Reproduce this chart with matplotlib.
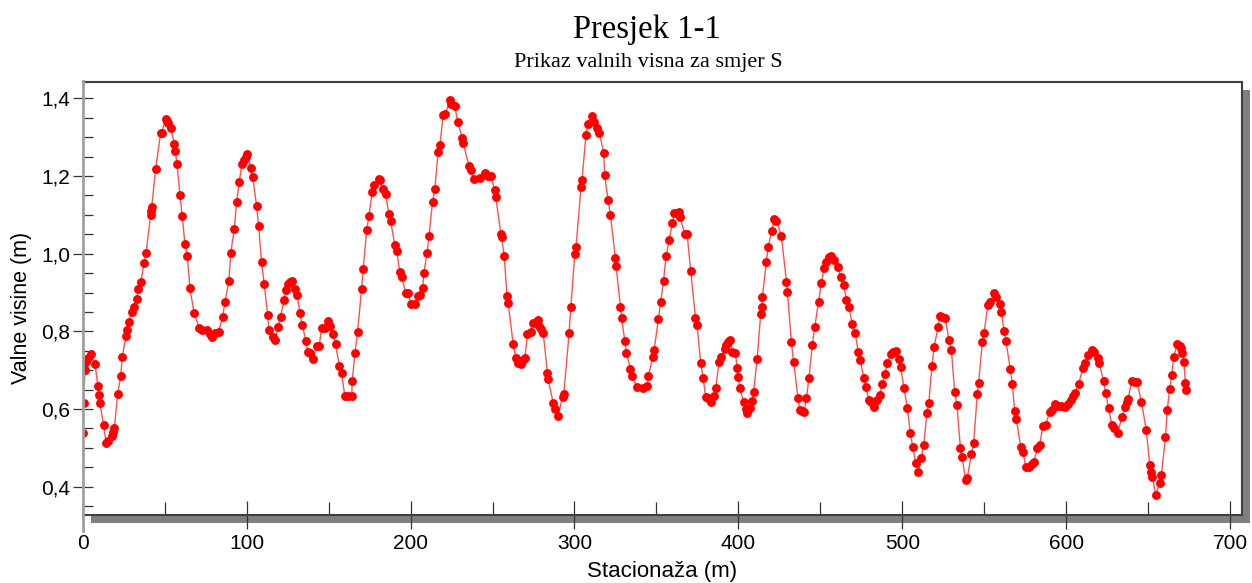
"""Presjek 1-1: valne visine duz stacionaze (smjer S)."""

import matplotlib

matplotlib.use("Agg")
import matplotlib.pyplot as plt
from matplotlib.lines import Line2D
from matplotlib.patches import Rectangle
from matplotlib.ticker import FuncFormatter, MultipleLocator

TITLE = "Presjek 1-1"
SUBTITLE = "Prikaz valnih visna za smjer S"
X_LABEL = "Stacionaža (m)"
Y_LABEL = "Valne visine (m)"

stacionaza = [
    0.0, 0.5, 1.4, 2.0, 3.4, 5.1, 7.5, 9.3, 9.9, 10.4, 12.8, 14.2, 15.6, 17.7, 18.7, 19.3,
    21.3, 23.2, 24.1, 26.4, 27.0, 28.0, 29.9, 31.5, 32.9, 33.9, 35.5, 37.4, 38.6, 41.5,
    41.6, 42.1, 44.5, 47.5, 48.2, 50.6, 51.2, 52.2, 53.7, 55.9, 56.5, 57.5, 59.3, 60.7,
    62.4, 63.8, 65.4, 68.0, 71.1, 72.9, 75.6, 77.6, 79.0, 80.7, 82.9, 85.4, 86.8, 89.2,
    90.3, 92.5, 93.9, 95.5, 97.0, 98.4, 99.4, 100.4, 102.4, 103.7, 106.1, 107.3, 109.1,
    110.7, 112.8, 113.6, 115.8, 117.3, 119.3, 120.7, 122.8, 124.0, 125.4, 126.4, 127.8,
    129.5, 130.9, 132.5, 133.9, 136.2, 137.2, 138.6, 140.6, 142.7, 144.3, 145.7, 147.7,
    149.8, 150.8, 152.8, 154.3, 156.5, 157.9, 159.9, 162.0, 164.1, 164.4, 166.1, 167.7,
    170.1, 171.1, 173.2, 174.6, 176.6, 177.6, 180.7, 181.3, 182.9, 184.8, 186.8, 187.8,
    190.4, 191.5, 193.5, 194.5, 197.0, 198.5, 200.2, 203.0, 204.6, 205.7, 207.3, 208.1,
    210.1, 211.3, 213.4, 214.8, 216.8, 217.9, 219.9, 221.3, 224.0, 224.6, 227.0, 228.7,
    231.5, 232.1, 235.6, 236.6, 238.8, 242.3, 245.3, 247.3, 248.8, 251.4, 252.0, 255.1,
    255.5, 257.1, 258.9, 259.5, 262.6, 264.2, 265.6, 267.1, 268.7, 269.7, 271.3, 273.4,
    274.8, 276.8, 277.8, 278.4, 279.3, 280.9, 283.5, 283.9, 287.0, 288.4, 290.0, 292.7,
    293.5, 296.7, 297.8, 300.2, 300.9, 304.0, 304.6, 307.0, 308.1, 310.7, 312.1, 313.8,
    315.1, 317.8, 318.4, 320.5, 321.9, 324.9, 325.4, 328.0, 328.7, 330.7, 331.7, 334.1,
    335.1, 338.2, 341.8, 344.2, 345.1, 347.8, 348.6, 351.2, 352.6, 354.3, 355.9, 357.7,
    359.7, 360.9, 362.6, 363.8, 364.2, 367.3, 368.7, 370.9, 373.8, 374.7, 377.0, 378.4,
    380.1, 381.5, 383.1, 384.9, 386.1, 388.2, 389.6, 391.6, 392.2, 393.7, 395.1, 396.3,
    398.2, 399.2, 399.8, 400.8, 403.2, 404.5, 405.5, 406.9, 408.3, 409.3, 411.4, 413.6,
    414.4, 414.6, 417.1, 418.1, 420.2, 421.8, 423.2, 426.2, 429.3, 429.9, 432.3, 433.7,
    436.3, 437.4, 438.8, 440.0, 441.5, 443.0, 445.1, 446.5, 448.9, 450.6, 452.2, 453.6,
    455.0, 456.7, 458.3, 460.7, 462.4, 464.2, 465.9, 467.5, 469.3, 471.3, 473.0, 474.3,
    476.4, 477.6, 479.6, 481.1, 482.7, 484.7, 486.1, 487.8, 489.2, 490.9, 492.9, 494.3,
    495.9, 497.9, 499.0, 501.0, 503.1, 504.9, 506.3, 508.3, 509.8, 511.6, 513.0, 515.0,
    516.1, 518.1, 519.3, 521.8, 522.8, 524.4, 526.2, 528.4, 529.9, 531.9, 533.3, 535.4,
    536.4, 538.6, 539.6, 542.1, 543.5, 545.7, 546.5, 548.8, 549.8, 552.2, 553.3, 555.9,
    556.9, 559.4, 560.4, 562.0, 563.1, 565.9, 567.1, 568.5, 569.5, 572.2, 573.6, 575.3,
    577.3, 579.1, 580.3, 582.3, 583.7, 585.7, 587.4, 589.8, 591.5, 593.4, 595.2, 597.0,
    599.0, 601.0, 603.1, 604.0, 605.1, 607.5, 610.1, 611.6, 613.2, 615.6, 616.8, 619.3,
    619.9, 622.8, 624.0, 625.8, 627.8, 628.9, 631.5, 633.9, 636.0, 637.0, 637.6, 640.1,
    641.7, 643.1, 645.8, 648.8, 650.9, 651.9, 652.5, 654.6, 657.0, 658.0, 660.5, 661.6,
    663.0, 664.4, 665.5, 667.7, 669.1, 670.2, 670.8, 671.8, 672.6, 672.8,
]

visina = [
    0.537, 0.615, 0.700, 0.722, 0.731, 0.742, 0.716, 0.658, 0.636, 0.616, 0.559, 0.513,
    0.517, 0.531, 0.542, 0.550, 0.639, 0.685, 0.733, 0.788, 0.803, 0.823, 0.851, 0.863,
    0.883, 0.908, 0.928, 0.975, 1.002, 1.100, 1.111, 1.121, 1.218, 1.310, 1.312, 1.348,
    1.342, 1.337, 1.325, 1.282, 1.265, 1.231, 1.151, 1.097, 1.024, 0.995, 0.911, 0.846,
    0.809, 0.803, 0.803, 0.792, 0.786, 0.795, 0.798, 0.838, 0.876, 0.930, 1.001, 1.064,
    1.134, 1.184, 1.230, 1.241, 1.250, 1.258, 1.222, 1.198, 1.123, 1.072, 0.978, 0.923,
    0.843, 0.803, 0.785, 0.778, 0.812, 0.838, 0.881, 0.906, 0.921, 0.926, 0.930, 0.908,
    0.894, 0.846, 0.816, 0.775, 0.748, 0.743, 0.728, 0.763, 0.763, 0.808, 0.808, 0.827,
    0.814, 0.792, 0.767, 0.712, 0.692, 0.634, 0.634, 0.634, 0.672, 0.745, 0.799, 0.908,
    0.960, 1.060, 1.097, 1.160, 1.177, 1.192, 1.191, 1.166, 1.153, 1.101, 1.085, 1.022,
    1.008, 0.952, 0.941, 0.900, 0.898, 0.870, 0.870, 0.891, 0.894, 0.911, 0.951, 1.002,
    1.046, 1.134, 1.166, 1.262, 1.280, 1.357, 1.359, 1.396, 1.385, 1.380, 1.340, 1.299,
    1.286, 1.226, 1.215, 1.192, 1.194, 1.207, 1.201, 1.200, 1.164, 1.145, 1.051, 1.042,
    0.994, 0.891, 0.874, 0.767, 0.731, 0.718, 0.715, 0.726, 0.731, 0.792, 0.799, 0.822,
    0.825, 0.829, 0.814, 0.806, 0.797, 0.692, 0.677, 0.616, 0.599, 0.583, 0.630, 0.639,
    0.795, 0.863, 1.000, 1.016, 1.172, 1.191, 1.306, 1.333, 1.354, 1.340, 1.324, 1.312,
    1.260, 1.203, 1.138, 1.100, 0.990, 0.968, 0.863, 0.835, 0.776, 0.745, 0.703, 0.685,
    0.656, 0.653, 0.659, 0.686, 0.735, 0.752, 0.832, 0.876, 0.930, 0.994, 1.035, 1.078,
    1.104, 1.105, 1.108, 1.095, 1.052, 1.051, 0.956, 0.835, 0.817, 0.719, 0.681, 0.630,
    0.628, 0.619, 0.634, 0.653, 0.722, 0.733, 0.754, 0.765, 0.773, 0.778, 0.748, 0.743,
    0.705, 0.683, 0.653, 0.619, 0.599, 0.589, 0.602, 0.621, 0.645, 0.729, 0.845, 0.863,
    0.889, 0.979, 1.016, 1.058, 1.089, 1.085, 1.046, 0.928, 0.901, 0.772, 0.721, 0.629,
    0.597, 0.595, 0.592, 0.629, 0.679, 0.765, 0.810, 0.876, 0.924, 0.962, 0.979, 0.991,
    0.994, 0.984, 0.965, 0.939, 0.919, 0.881, 0.863, 0.819, 0.795, 0.748, 0.725, 0.681,
    0.657, 0.623, 0.619, 0.606, 0.623, 0.636, 0.664, 0.689, 0.718, 0.742, 0.748, 0.749,
    0.728, 0.707, 0.653, 0.602, 0.537, 0.503, 0.460, 0.439, 0.475, 0.507, 0.589, 0.615,
    0.712, 0.759, 0.810, 0.839, 0.836, 0.834, 0.778, 0.752, 0.645, 0.610, 0.500, 0.477,
    0.417, 0.423, 0.483, 0.512, 0.638, 0.668, 0.773, 0.795, 0.868, 0.876, 0.898, 0.889,
    0.870, 0.851, 0.802, 0.776, 0.702, 0.664, 0.596, 0.574, 0.503, 0.488, 0.451, 0.451,
    0.458, 0.464, 0.499, 0.507, 0.555, 0.559, 0.593, 0.597, 0.613, 0.609, 0.609, 0.606,
    0.613, 0.623, 0.634, 0.640, 0.664, 0.706, 0.719, 0.739, 0.752, 0.748, 0.731, 0.719,
    0.672, 0.640, 0.602, 0.559, 0.552, 0.539, 0.579, 0.604, 0.619, 0.626, 0.672, 0.670,
    0.670, 0.619, 0.546, 0.456, 0.439, 0.426, 0.379, 0.410, 0.430, 0.527, 0.597, 0.651,
    0.688, 0.735, 0.767, 0.762, 0.756, 0.745, 0.722, 0.668, 0.649,
]

W, H = 1252, 583


def _fx(px):
    return px / W


def _fy(py):
    return 1 - py / H


def main():
    plt.rcParams["font.family"] = ["Liberation Sans", "DejaVu Sans"]
    fig = plt.figure(figsize=(W / 100, H / 100), dpi=100)

    # box: left 82.7, right 1241.7, top 81.7, bottom 515 (px)
    left, right, top, bottom = 82.7, 1241.7, 81.7, 515.0
    shadow = Rectangle(
        (_fx(left + 8), _fy(bottom + 8)),
        (right - left) / W,
        (bottom - top) / H,
        transform=fig.transFigure,
        facecolor="#7f7f7f",
        edgecolor="none",
        zorder=0,
    )
    fig.add_artist(shadow)

    ax = fig.add_axes([_fx(left), _fy(bottom), (right - left) / W, (bottom - top) / H])
    ax.set_zorder(1)
    ax.set_facecolor("white")

    ax.plot(stacionaza, visina, "-", color="#ff5050", linewidth=1.0, zorder=2)
    ax.plot(stacionaza, visina, "o", color="#ff0000", markersize=6.4,
            markeredgewidth=0, zorder=3)

    ax.set_xlim(0, 707)
    ax.set_ylim(0.327, 1.443)

    ax.xaxis.set_major_locator(MultipleLocator(100))
    ax.xaxis.set_minor_locator(MultipleLocator(50))
    ax.yaxis.set_major_locator(MultipleLocator(0.2))
    ax.yaxis.set_minor_locator(MultipleLocator(0.05))
    ax.yaxis.set_major_formatter(FuncFormatter(lambda v, _: f"{v:.1f}".replace(".", ",")))

    ax.tick_params(axis="x", which="major", direction="inout", length=20,
                   width=0.9, color="#333333", labelsize=15, pad=4)
    ax.tick_params(axis="x", which="minor", direction="in", length=9.4,
                   width=0.9, color="#333333")
    ax.tick_params(axis="y", which="major", direction="inout", length=14.4,
                   width=0.9, color="#333333", labelsize=15, pad=2)
    ax.tick_params(axis="y", which="minor", direction="in", length=7.2,
                   width=0.9, color="#333333")

    for side in ("top", "right", "bottom"):
        ax.spines[side].set_color("#404040")
        ax.spines[side].set_linewidth(1.5)
    ax.spines["left"].set_visible(False)
    fig.add_artist(Line2D([_fx(left), _fx(left)], [_fy(top - 1), _fy(531)],
                          transform=fig.transFigure, color="#a0a0a0",
                          linewidth=2, zorder=5))

    fig.text(_fx(662), _fy(577), X_LABEL, ha="center", va="baseline", fontsize=16)
    fig.text(_fx(22), _fy(308), Y_LABEL, ha="center", va="center",
             rotation=90, fontsize=15.5)

    fig.text(_fx(647), _fy(38), TITLE, ha="center", va="baseline",
             fontsize=23.5, family=["Liberation Serif", "DejaVu Serif"])
    fig.text(_fx(648), _fy(67), SUBTITLE, ha="center", va="baseline",
             fontsize=16, family=["Liberation Serif", "DejaVu Serif"])

    fig.savefig("out.png", dpi=100)
    plt.close(fig)
    return 0


if __name__ == "__main__":
    raise SystemExit(main())
